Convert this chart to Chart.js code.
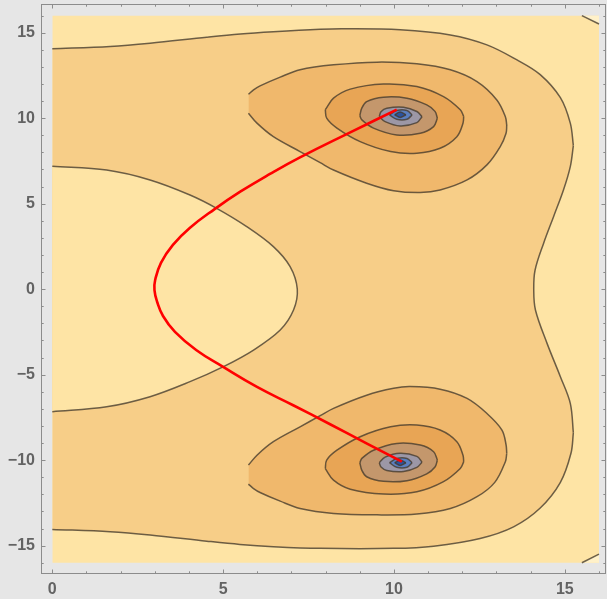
<!DOCTYPE html>
<html>
<head>
<meta charset="utf-8">
<script src="https://cdn.jsdelivr.net/npm/chart.js@4.4.1/dist/chart.umd.min.js"></script>
<style>
  html, body { margin: 0; padding: 0; background: #e6e6e6; }
  canvas { display: block; }
</style>
</head>
<body>
<canvas id="plot" width="607" height="599"></canvas>
<script>
// tick positions and labels
const xTickLabels = [0, 5, 10, 15];
const yTickLabels = [-15, -10, -5, 0, 5, 10, 15];
const xTickMarks = [0, 1, 2, 3, 4, 5, 6, 7, 8, 9, 10, 11, 12, 13, 14, 15, 16];
const yTickMarks = [-16, -15, -14, -13, -12, -11, -10, -9, -8, -7, -6, -5, -4, -3, -2, -1, 0,
  1, 2, 3, 4, 5, 6, 7, 8, 9, 10, 11, 12, 13, 14, 15, 16];

// plotted region
const region = [[0, 16], [16, 16]];

// outermost contour
const outerTop = [[0, 14.06], [1.69, 14.19], [2.86, 14.38], [4.52, 14.74], [5.5, 14.93], [6.47, 15.06],
  [7.84, 15.2], [8.52, 15.23], [10.18, 15.17], [11.65, 14.87], [12.72, 14.29], [13.6, 13.41],
  [14.28, 12.55], [14.87, 11.2], [15.16, 9.71], [15.25, 8.4]];
const outerBottom = [[0, -14.05], [1.69, -14.19], [2.86, -14.38], [4.52, -14.74], [5.49, -14.93], [6.47, -15.06],
  [7.84, -15.16], [9.99, -15.16], [11.16, -15.03], [12.52, -14.58], [13.5, -13.9], [14.28, -12.8],
  [14.87, -11.3], [15.18, -9.6], [15.25, -8.4]];
const outerRight = [[15.25, 8.4], [15.16, 7.17], [14.96, 5.8], [14.67, 4.24], [14.38, 2.69], [14.13, 1.12],
  [14.09, 0], [14.14, -1.22], [14.48, -3.17], [14.87, -5.12], [15.16, -6.68], [15.25, -8.4]];
const innerLeft = [[0, 7.19], [1.59, 6.97], [2.86, 6.39], [4.03, 5.51], [4.81, 4.73], [5.69, 3.66],
  [6.47, 2.49], [6.96, 1.32], [7.17, 0], [7.06, -1.22], [6.67, -2.39], [5.89, -3.56], [5.01, -4.53],
  [4.03, -5.41], [2.86, -6.29], [1.59, -6.88], [0, -7.17]];
const cornerTop = [[15.5, 16], [16, 15.51]];
const cornerBottom = [[15.5, -16], [16, -15.5]];

// loops around the upper zero
const tearUpA = [[5.74, 11.4], [5.89, 11.66], [6.08, 11.89], [6.67, 12.4], [7.25, 12.83], [8.23, 13.12],
  [9.5, 13.28], [10.67, 13.18], [11.65, 12.83], [12.43, 12.14], [13.01, 11.07], [13.26, 10.09], [13.3, 9.6]];
const tearUpB = [[5.74, 10.29], [5.99, 9.71], [6.47, 8.92], [7.25, 8.05], [7.84, 7.4], [8.23, 6.97],
  [9.2, 6.2], [9.99, 5.76], [10.77, 5.65], [11.35, 5.8], [12.14, 6.39], [12.72, 7.27], [13.11, 8.34],
  [13.28, 9.12], [13.3, 9.6]];
const ring3UpA = [[7.99, 10.5], [8.23, 11.17], [8.72, 11.7], [9.69, 12.0], [10.67, 11.85], [11.45, 11.26],
  [11.94, 10.49], [12.04, 10.1]];
const ring3UpB = [[7.99, 10.5], [8.03, 10.0], [8.33, 9.42], [9.01, 8.63], [9.9, 8.05], [10.67, 7.95],
  [11.35, 8.24], [11.84, 8.92], [12.02, 9.71], [12.04, 10.1]];
const ring4UpA = [[9.0, 10.15], [9.06, 10.6], [9.2, 10.97], [9.69, 11.23], [10.38, 11.17], [10.96, 10.78],
  [11.2, 10.4], [11.27, 10.0]];
const ring4UpB = [[9.0, 10.15], [9.06, 9.9], [9.4, 9.42], [10.08, 9.02], [10.77, 9.12], [11.16, 9.51], [11.27, 10.0]];
const ring5UpA = [[9.57, 10.1], [9.62, 10.38], [9.79, 10.58], [10.28, 10.64], [10.67, 10.39], [10.82, 10.09]];
const ring5UpB = [[9.57, 10.1], [9.74, 9.8], [10.18, 9.55], [10.67, 9.74], [10.82, 10.09]];
const ring6UpA = [[9.87, 10.19], [10.08, 10.45], [10.38, 10.45], [10.53, 10.19]];
const ring6UpB = [[9.87, 10.19], [10.08, 9.94], [10.38, 9.94], [10.53, 10.19]];
const ring7UpA = [[10.02, 10.2], [10.18, 10.36], [10.35, 10.2]];
const ring7UpB = [[10.02, 10.2], [10.18, 10.04], [10.35, 10.2]];

// loops around the lower zero
const tearDnA = [[5.74, -11.4], [5.89, -11.66], [6.08, -11.89], [6.67, -12.4], [7.25, -12.83], [8.23, -13.12],
  [9.5, -13.2], [10.67, -13.15], [11.65, -12.83], [12.43, -12.14], [12.95, -11.3], [13.26, -10.09], [13.3, -9.6]];
const tearDnB = [[5.74, -10.29], [5.99, -9.71], [6.47, -8.92], [7.25, -8.05], [7.84, -7.4], [8.23, -6.97],
  [9.2, -6.2], [9.99, -5.8], [10.47, -5.7], [11.35, -5.85], [12.14, -6.39], [12.72, -7.27], [13.16, -8.24],
  [13.28, -9.1], [13.3, -9.6]];
const ring3DnA = [[7.99, -10.5], [8.23, -11.17], [8.72, -11.7], [9.69, -11.98], [10.67, -11.85], [11.45, -11.26],
  [11.94, -10.49], [12.04, -10.1]];
const ring3DnB = [[7.99, -10.5], [8.03, -10.0], [8.33, -9.42], [9.01, -8.63], [9.9, -8.05], [10.67, -7.95],
  [11.35, -8.24], [11.84, -8.92], [12.02, -9.71], [12.04, -10.1]];
const ring4DnA = [[9.0, -10.15], [9.06, -10.6], [9.2, -10.97], [9.69, -11.24], [10.38, -11.2], [10.96, -10.8],
  [11.2, -10.4], [11.27, -10.0]];
const ring4DnB = [[9.0, -10.15], [9.06, -9.9], [9.4, -9.42], [10.08, -9.02], [10.77, -9.12], [11.16, -9.51], [11.27, -10.0]];
const ring5DnA = [[9.57, -10.15], [9.62, -10.4], [9.79, -10.6], [10.28, -10.66], [10.67, -10.42], [10.82, -10.12]];
const ring5DnB = [[9.57, -10.15], [9.74, -9.82], [10.18, -9.6], [10.67, -9.78], [10.82, -10.12]];
const ring6DnA = [[9.87, -10.15], [10.08, -10.42], [10.38, -10.42], [10.53, -10.15]];
const ring6DnB = [[9.87, -10.15], [10.08, -9.9], [10.38, -9.9], [10.53, -10.15]];
const ring7DnA = [[10.02, -10.15], [10.18, -10.31], [10.35, -10.15]];
const ring7DnB = [[10.02, -10.15], [10.18, -9.99], [10.35, -10.15]];

// red path between the two zeros
const path = [[10.08, 10.5], [8.72, 9.17], [7.25, 7.71], [6.37, 6.74], [5.5, 5.7], [4.74, 4.67], [4.03, 3.59],
  [3.53, 2.59], [3.18, 1.54], [3.01, 0.54], [2.99, -0.05], [3.07, -0.75], [3.24, -1.57], [3.59, -2.5],
  [4.21, -3.56], [5.0, -4.55], [5.99, -5.72], [7.05, -6.79], [8.13, -7.9], [9.21, -9.03], [10.23, -10.09]];

const EDGE = 'rgba(68, 58, 44, 0.78)';
const shades = ['#fff1c9', '#fee4a5', '#f7ce88', '#f0b86c', '#e8a555', '#c4976c', '#9c97a6', '#5b7fc0', '#2b539f'];

const datasets = [];
function add(points, opts) {
    datasets.push(Object.assign({
        data: points.map(([x, y]) => ({ x, y })),
        borderColor: EDGE,
        borderWidth: 1.5,
        pointRadius: 0,
        tension: 0.35,
        fill: false
    }, opts));
}
function loop(a, b, color) {
    add(a, { fill: '+1', backgroundColor: color });
    add(b, {});
}

add(region, { fill: { value: -16 }, backgroundColor: shades[1], borderColor: 'rgba(0,0,0,0)', tension: 0 });
add(cornerTop, { fill: { value: 16 }, backgroundColor: shades[0], tension: 0 });
add(cornerBottom, { fill: { value: -16 }, backgroundColor: shades[0], tension: 0 });
loop(outerTop, outerBottom, shades[2]);
add(outerRight, { indexAxis: 'y', fill: { value: 16 }, backgroundColor: shades[1] });
add(innerLeft, { indexAxis: 'y', fill: { value: 0 }, backgroundColor: shades[1] });
loop(tearUpA, tearUpB, shades[3]);
loop(tearDnA, tearDnB, shades[3]);
loop(ring3UpA, ring3UpB, shades[4]);
loop(ring3DnA, ring3DnB, shades[4]);
loop(ring4UpA, ring4UpB, shades[5]);
loop(ring4DnA, ring4DnB, shades[5]);
loop(ring5UpA, ring5UpB, shades[6]);
loop(ring5DnA, ring5DnB, shades[6]);
loop(ring6UpA, ring6UpB, shades[7]);
loop(ring6DnA, ring6DnB, shades[7]);
loop(ring7UpA, ring7UpB, shades[8]);
loop(ring7DnA, ring7DnB, shades[8]);
add(path, { indexAxis: 'y', borderColor: '#ff0000', borderWidth: 2.6, tension: 0.45 });

// first dataset is painted first
datasets.forEach((d, i) => { d.order = datasets.length - i; });

const fmt = v => (v < 0 ? '\u2212' + (-v) : String(v));
const tickFont = { family: 'Liberation Sans, Arial, sans-serif', size: 16, weight: 'bold' };

// frame with inward ticks on all four sides
const frame = {
    id: 'frame',
    afterDraw(chart) {
        const { ctx, chartArea: a, scales: { x, y } } = chart;
        ctx.save();
        ctx.strokeStyle = '#8c8c8c';
        ctx.lineWidth = 1;
        ctx.strokeRect(a.left + 0.5, a.top + 0.5, a.right - a.left - 1, a.bottom - a.top - 1);
        ctx.beginPath();
        xTickMarks.forEach(v => {
            const len = xTickLabels.includes(v) ? 4.5 : 2.7;
            const px = Math.round(x.getPixelForValue(v)) + 0.5;
            ctx.moveTo(px, a.bottom); ctx.lineTo(px, a.bottom - len);
            ctx.moveTo(px, a.top); ctx.lineTo(px, a.top + len);
        });
        yTickMarks.forEach(v => {
            const len = yTickLabels.includes(v) ? 4.5 : 2.7;
            const py = Math.round(y.getPixelForValue(v)) + 0.5;
            ctx.moveTo(a.left, py); ctx.lineTo(a.left + len, py);
            ctx.moveTo(a.right, py); ctx.lineTo(a.right - len, py);
        });
        ctx.stroke();
        ctx.restore();
    }
};

new Chart(document.getElementById('plot'), {
    type: 'line',
    data: { datasets },
    options: {
        responsive: false,
        animation: false,
        events: [],
        layout: { padding: { top: 4, right: 1, left: 0, bottom: 0 } },
        plugins: { legend: { display: false }, tooltip: { enabled: false } },
        scales: {
            x: {
                type: 'linear',
                min: -0.331,
                max: 16.205,
                afterBuildTicks: s => { s.ticks = xTickLabels.map(value => ({ value })); },
                afterFit: s => { s.height = 25; s.paddingLeft = 0; s.paddingRight = 0; },
                grid: { display: false, drawTicks: false },
                border: { display: false },
                ticks: { padding: 6, color: '#636363', font: tickFont, callback: fmt, autoSkip: false, maxRotation: 0 }
            },
            y: {
                type: 'linear',
                min: -16.66,
                max: 16.68,
                afterBuildTicks: s => { s.ticks = yTickLabels.map(value => ({ value })); },
                afterFit: s => { s.width = 41; s.paddingTop = 0; s.paddingBottom = 0; },
                grid: { display: false, drawTicks: false },
                border: { display: false },
                ticks: { padding: 6, color: '#636363', font: tickFont, callback: fmt, autoSkip: false }
            }
        }
    },
    plugins: [frame]
});
</script>
</body>
</html>
